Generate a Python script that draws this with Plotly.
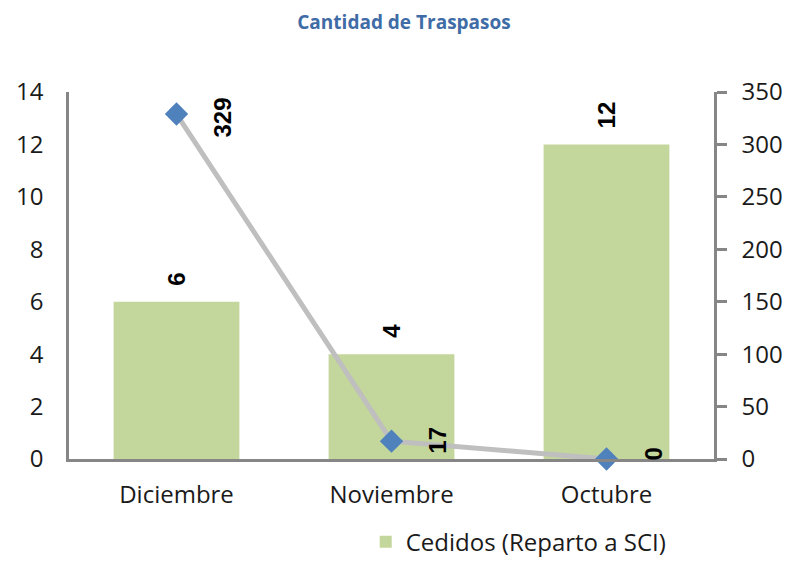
import plotly.graph_objects as go

categories = ["Diciembre", "Noviembre", "Octubre"]
cedidos = [6, 4, 12]
traspasos = [329, 17, 0]

fig = go.Figure()
fig.add_trace(go.Bar(
    x=categories, y=cedidos, name="Cedidos (Reparto a SCI)",
    marker=dict(color="#C3D69B", line=dict(width=0)),
    width=0.585,
))
fig.add_trace(go.Scatter(
    x=categories, y=traspasos, yaxis="y2", mode="lines+markers",
    line=dict(color="#BFBFBF", width=5),
    marker=dict(symbol="diamond", size=18, color="#4F81BD"),
    showlegend=False, cliponaxis=False,
))
for c, v in zip(categories, cedidos):
    fig.add_annotation(x=c, y=v, yref="y", text="<b>%d</b>" % v, textangle=-90,
                       showarrow=False, yanchor="bottom", yshift=14,
                       font=dict(size=24, color="black", family="Liberation Sans"))
for c, v in zip(categories, traspasos):
    fig.add_annotation(x=c, y=v, yref="y2", text="<b>%d</b>" % v, textangle=-90,
                       showarrow=False, xshift=46, yshift=-4 if v > 100 else (1 if v > 0 else 5),
                       yanchor="middle",
                       font=dict(size=24, color="black", family="Liberation Sans"))

fig.update_layout(
    width=792, height=563,
    margin=dict(l=61, r=86, t=84, b=112, autoexpand=False),
    plot_bgcolor="white", paper_bgcolor="white",
    font=dict(family="Open Sans", size=20, color="#1a1a1a"),
    title=dict(text="<b>Cantidad de Traspasos</b>", x=0.5, xanchor="center", y=0.975, yanchor="middle",
               font=dict(size=19, color="#3F6CA6", family="Open Sans")),
    bargap=0.415,
    xaxis=dict(showline=True, linecolor="#868686", linewidth=2.5, ticks="", showgrid=False,
               tickfont=dict(size=24), automargin=False, ticklabelstandoff=12),
    yaxis=dict(range=[0, 14], dtick=2, showline=True, linecolor="#868686", linewidth=2.5,
               ticks="", showgrid=False, zeroline=False,
               tickfont=dict(size=24), automargin=False, ticklabelstandoff=18),
    yaxis2=dict(range=[0, 350], dtick=50, overlaying="y", side="right", showline=True,
                linecolor="#868686", linewidth=2.5, ticks="outside", ticklen=10, tickwidth=2.5,
                tickcolor="#868686", showgrid=False, zeroline=False, tickfont=dict(size=24),
                automargin=False, ticklabelstandoff=10),
    legend=dict(orientation="h", x=0.46, y=-0.165, xanchor="left", yanchor="top",
                font=dict(size=24)),
)
fig.write_html("out.html")
